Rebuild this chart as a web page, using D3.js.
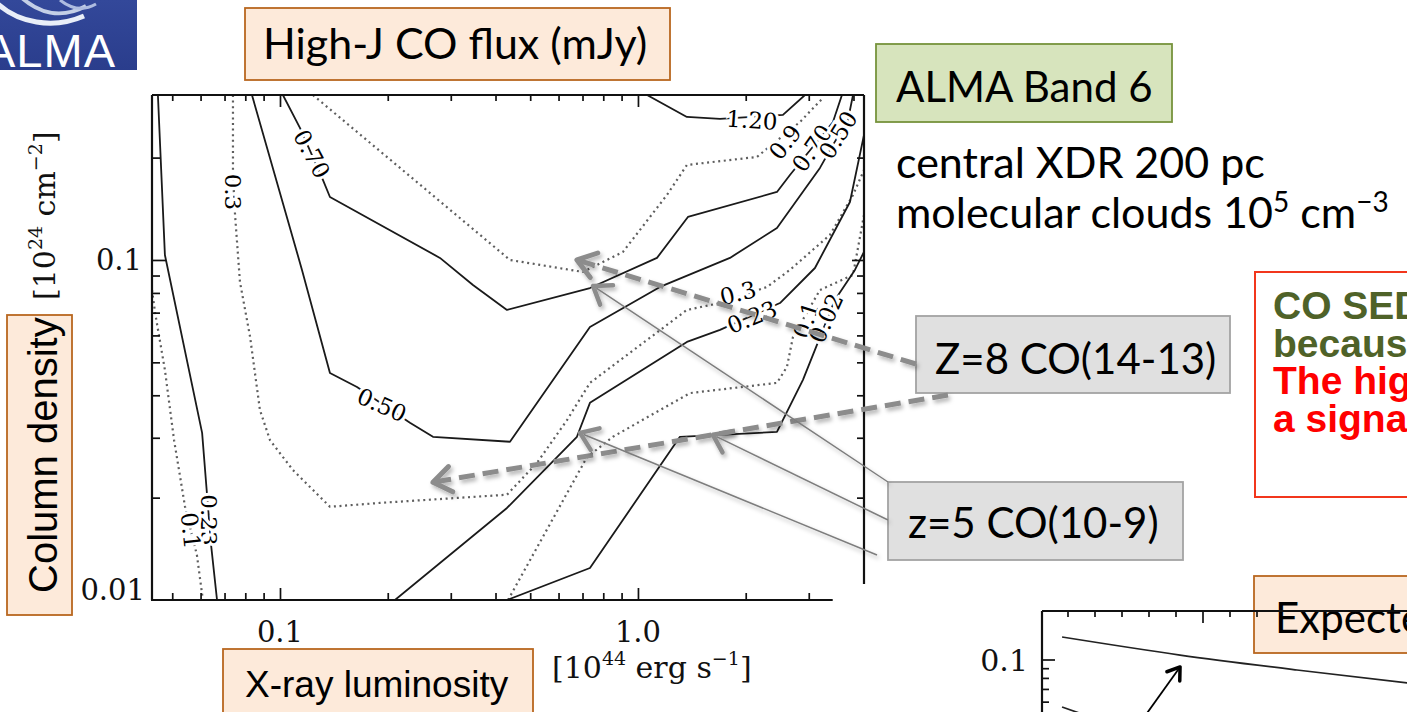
<!DOCTYPE html>
<html>
<head>
<meta charset="utf-8">
<script src="https://cdn.jsdelivr.net/npm/d3@7"></script>
<style>
  html, body { margin: 0; padding: 0; background: #fff; overflow: hidden; }
  svg { display: block; }
</style>
</head>
<body>
<svg id="chart" width="1407" height="712"></svg>
<script>
// ---- Axis ranges and ticks (X-ray luminosity [1e44 erg/s], column density [1e24 cm^-2]) ----
const lumDomain = [0.0439, 4.28];
const colDomain = [0.01, 0.3056];
const xMajorTicks = [0.1, 1.0];
const xTickLabels = ["0.1", "1.0"];
const xMinorTicks = [0.05, 0.06, 0.07, 0.08, 0.09, 0.2, 0.3, 0.4, 0.5, 0.6, 0.7, 0.8, 0.9, 2, 3, 4];
const yMajorTicks = [0.01, 0.1];
const yTickLabels = ["0.01", "0.1"];
const yMinorTicks = [0.02, 0.03, 0.04, 0.05, 0.06, 0.07, 0.08, 0.09, 0.2];

// ---- Contours of high-J CO flux (mJy): [luminosity, column density] ----
const c023left = [[0.0456,0.3056],[0.0477,0.1034],[0.0606,0.0310],[0.0625,0.0206],[0.0642,0.0145],[0.0667,0.01]];
const c010left = [[0.0439,0.0816],[0.0448,0.0698],[0.0477,0.0475],[0.0506,0.0295],[0.0543,0.0188],[0.0586,0.01356],[0.0609,0.01]];
const c030 = [[0.0739,0.3056],[0.0739,0.1778],[0.0749,0.1356],[0.0773,0.0862],[0.0825,0.0594],[0.0879,0.0362],[0.0938,0.0295],
              [0.1087,0.0241],[0.1379,0.0188],[0.1903,0.0193],[0.4306,0.0204],[0.5222,0.0253],[0.6334,0.0338],[0.7343,0.0435],
              [1.370,0.0713],[1.695,0.0747],[2.293,0.0833],[2.658,0.0935],[3.438,0.1185],[3.988,0.1553],[4.28,0.1839]];
const c050 = [[0.0835,0.3056],[0.1152,0.0935],[0.1379,0.0465],[0.1641,0.0423],[0.2307,0.0332],[0.2675,0.0302],[0.4390,0.0292],
              [0.7343,0.0635],[1.152,0.0833],[1.807,0.1014],[2.445,0.1242],[3.224,0.1865],[3.505,0.2180],[3.861,0.2581],[3.988,0.3056]];
const c070 = [[0.1019,0.3056],[0.1137,0.2445],[0.1318,0.1719],[0.1379,0.1532],[0.2798,0.1014],[0.3460,0.0844],[0.4306,0.0713],
              [0.7343,0.0827],[1.130,0.1014],[1.379,0.1338],[2.445,0.1585],[2.658,0.1778],[3.505,0.2546],[3.714,0.3056]];
const c090 = [[0.1236,0.3056],[0.439,0.1],[0.702,0.0922],[0.908,0.1056],[1.205,0.1553],[1.370,0.1903],[2.149,0.2009],
              [2.835,0.2546],[3.287,0.2996]];
const c120 = [[1.060,0.3056],[1.370,0.2634],[1.695,0.2599],[2.541,0.2670],[2.928,0.3056]];
const c023right = [[0.2095,0.01],[0.4306,0.01865],[0.6753,0.0302],[0.7343,0.0380],[1.370,0.0574],[1.695,0.0623],
                   [2.493,0.0747],[3.122,0.0947],[3.910,0.1481],[4.28,0.2332]];
const c010right = [[0.4335,0.01],[0.7202,0.0263],[0.8514,0.0302],[1.397,0.0406],[2.445,0.0435],[2.608,0.0485],
                   [2.710,0.0594],[3.224,0.0816],[3.988,0.0904],[4.28,0.1356]];
const c002 = [[0.4306,0.01],[0.7343,0.01242],[1.310,0.0302],[2.445,0.0312],[2.890,0.0444],[3.122,0.0544],
              [3.549,0.0763],[4.037,0.0935],[4.28,0.1056]];

const contours = [
  { pts: c023left,  dotted: false },
  { pts: c010left,  dotted: true  },
  { pts: c030,      dotted: true  },
  { pts: c050,      dotted: false },
  { pts: c070,      dotted: false },
  { pts: c090,      dotted: true  },
  { pts: c120,      dotted: false },
  { pts: c023right, dotted: false },
  { pts: c010right, dotted: true  },
  { pts: c002,      dotted: false }
];

// contour labels: [text, luminosity, column density, rotation]
const contourLabels = [
  ["0.23", 0.0634, 0.0172, 90],
  ["0.1",  0.0564, 0.0160, 84],
  ["0.3",  0.0739, 0.1585, 90],
  ["0.70", 0.1228, 0.2050, 62],
  ["0.50", 0.1927, 0.0375, 24],
  ["1.20", 2.082,  0.2581, 4],
  ["0.9",  2.574,  0.2224, -52],
  ["0.70", 3.062,  0.2135, -55],
  ["0.50", 3.620,  0.2332, -58],
  ["0.3",  1.902,  0.0800, -14],
  ["0.23", 2.082,  0.0680, -22],
  ["0.1",  2.947,  0.0666, -72],
  ["0.02", 3.351,  0.0675, -66]
];

// arrow targets on the contour plot: [luminosity, column density]
const z8Targets = [[0.6753, 0.1], [0.2675, 0.0222]];
const z5Targets = [[0.749, 0.0839], [1.620, 0.0306], [0.689, 0.0310]];

// comment lines in the red box: [text, colour]
const commentLines = [
  ["CO SED", "#4f6228"],
  ["because", "#4f6228"],
  ["The high", "#ff0000"],
  ["a signal", "#ff0000"]
];

// ---- Inset plot (partially visible) ----
const insetXTicks = [1, 2, 3, 4, 5, 6, 7, 8];
const insetYMajor = [0.1];
const insetYMinor = [0.09, 0.08, 0.07, 0.06, 0.05];
const insetLineA = [[0.78,0.1321],[5.15,0.1062],[9.48,0.0886],[13.6,0.0757]];
const insetLineB = [[0.78,0.0566],[1.6,0.0515]];
const insetArrow = [[3.93,0.0526],[5.15,0.0919]];

// ------------------------------------------------------------------
const svg = d3.select("#chart");
const defs = svg.append("defs");
defs.append("clipPath").attr("id", "plotClip")
  .append("rect").attr("x", 152).attr("y", 95).attr("width", 712).attr("height", 505);
const sh = defs.append("filter").attr("id", "shadow")
  .attr("x", "-10%").attr("y", "-30%").attr("width", "130%").attr("height", "180%");
sh.append("feDropShadow").attr("dx", 2).attr("dy", 3).attr("stdDeviation", 2)
  .attr("flood-color", "#000").attr("flood-opacity", 0.3);
const logoGrad = defs.append("linearGradient").attr("id", "logoGrad")
  .attr("x1", 0).attr("y1", 0).attr("x2", 0).attr("y2", 1);
logoGrad.append("stop").attr("offset", "0%").attr("stop-color", "#33489a");
logoGrad.append("stop").attr("offset", "100%").attr("stop-color", "#2a3d8c");

svg.append("rect").attr("width", 1407).attr("height", 712).attr("fill", "#fff");

const x = d3.scaleLog().domain(lumDomain).range([152, 864]);
const y = d3.scaleLog().domain(colDomain).range([600, 95]);

// ---- logo ----
const logo = svg.append("g");
logo.append("rect").attr("x", 0).attr("y", 0).attr("width", 137).attr("height", 70).attr("fill", "url(#logoGrad)");
logo.append("path").attr("d", "M-2,4 C18,22 52,30 84,16").attr("fill", "none")
  .attr("stroke", "#e9eef8").attr("stroke-width", 5);
logo.append("path").attr("d", "M22,-2 C38,12 60,20 86,6").attr("fill", "none")
  .attr("stroke", "#c4cfe6").attr("stroke-width", 4);
logo.append("path").attr("d", "M60,0 C70,8 82,12 96,4").attr("fill", "none")
  .attr("stroke", "#aebce0").attr("stroke-width", 3);
logo.append("text").attr("x", -16).attr("y", 67)
  .attr("font-family", "Liberation Sans, Arial, sans-serif").attr("font-size", 47)
  .attr("letter-spacing", 1).attr("fill", "#fff").text("ALMA");

// ---- contour plot ----
const plot = svg.append("g");
const lineGen = d3.line().x(d => x(d[0])).y(d => y(d[1]));
const cg = plot.append("g").attr("clip-path", "url(#plotClip)");
cg.selectAll("path.contour").data(contours).join("path")
  .attr("class", "contour")
  .attr("d", d => lineGen(d.pts))
  .attr("fill", "none")
  .attr("stroke", d => d.dotted ? "#5e5e5e" : "#1a1a1a")
  .attr("stroke-width", d => d.dotted ? 2.2 : 1.8)
  .attr("stroke-dasharray", d => d.dotted ? "2 3.6" : null)
  .attr("stroke-linejoin", "round");

cg.selectAll("text.clabel").data(contourLabels).join("text")
  .attr("class", "clabel")
  .attr("transform", d => `translate(${x(d[1])},${y(d[2])}) rotate(${d[3]})`)
  .attr("text-anchor", "middle").attr("dy", "0.36em")
  .attr("font-family", "DejaVu Serif, serif").attr("font-size", 23)
  .attr("fill", "#000")
  .attr("stroke", "#fff").attr("stroke-width", 6).attr("paint-order", "stroke")
  .text(d => d[0]);

// ticks on all four sides, pointing inward
function tickAxis(axis, tx, ty, vals, size) {
  const g = plot.append("g").attr("transform", `translate(${tx},${ty})`)
    .call(axis.tickValues(vals).tickSize(size).tickFormat(""));
  g.select(".domain").remove();
  g.selectAll("line").attr("stroke", "#111").attr("stroke-width", 1.7);
}
tickAxis(d3.axisTop(x), 0, 600, xMinorTicks.filter(v => v <= 3.2), 7);
tickAxis(d3.axisTop(x), 0, 600, xMajorTicks, 12);
tickAxis(d3.axisBottom(x), 0, 95, xMinorTicks, 6);
tickAxis(d3.axisBottom(x), 0, 95, xMajorTicks, 12);
tickAxis(d3.axisRight(y), 152, 0, yMinorTicks, 8);
tickAxis(d3.axisRight(y), 152, 0, yMajorTicks.filter(v => v > 0.01), 14);
tickAxis(d3.axisLeft(y), 864, 0, yMinorTicks, 7);
tickAxis(d3.axisLeft(y), 864, 0, yMajorTicks.filter(v => v > 0.01), 12);

// frame
const [x0, x1] = x.range(), [yb, yt] = y.range();
const frame = plot.append("g").attr("stroke", "#111").attr("stroke-width", 2.2).attr("fill", "none");
frame.append("line").attr("x1", x0).attr("y1", yt).attr("x2", x1).attr("y2", yt);
frame.append("line").attr("x1", x0).attr("y1", yt).attr("x2", x0).attr("y2", yb);
frame.append("line").attr("x1", x0 - 1).attr("y1", yb).attr("x2", x(3.5)).attr("y2", yb);
frame.append("line").attr("x1", x1).attr("y1", yt).attr("x2", x1).attr("y2", yb - 16);

// tick labels
plot.selectAll("text.xt").data(xMajorTicks).join("text").attr("class", "xt")
  .attr("x", d => x(d)).attr("y", 642).attr("text-anchor", "middle")
  .attr("font-family", "DejaVu Serif, serif").attr("font-size", 29).attr("fill", "#111")
  .text((d, i) => xTickLabels[i]);
plot.selectAll("text.yt").data(yMajorTicks).join("text").attr("class", "yt")
  .attr("x", d => d === 0.01 ? 145 : 142).attr("y", d => y(d) + (d === 0.01 ? 0 : 10)).attr("text-anchor", "end")
  .attr("font-family", "DejaVu Serif, serif").attr("font-size", 29).attr("fill", "#111")
  .text((d, i) => yTickLabels[i]);

// unit labels
const xu = plot.append("text").attr("x", 552).attr("y", 678)
  .attr("font-family", "DejaVu Serif, serif").attr("font-size", 30).attr("fill", "#111");
xu.append("tspan").text("[10");
xu.append("tspan").attr("dy", -13).attr("font-size", 19).text("44");
xu.append("tspan").attr("dy", 13).text(" erg s");
xu.append("tspan").attr("dy", -13).attr("font-size", 19).text("\u22121");
xu.append("tspan").attr("dy", 13).text("]");

const yu = plot.append("text").attr("transform", "translate(55,300) rotate(-90)")
  .attr("font-family", "DejaVu Serif, serif").attr("font-size", 30).attr("fill", "#111");
yu.append("tspan").text("[10");
yu.append("tspan").attr("dy", -13).attr("font-size", 19).text("24");
yu.append("tspan").attr("dy", 13).text(" cm");
yu.append("tspan").attr("dy", -13).attr("font-size", 19).text("\u22122");
yu.append("tspan").attr("dy", 13).text("]");

// ---- annotation boxes ----
const ann = svg.append("g");
const slideFont = "Lato, 'Open Sans', sans-serif";
const arialFont = "'Liberation Sans', Arial, sans-serif";

function box(x0, y0, w, h, fill, stroke) {
  ann.append("rect").attr("x", x0).attr("y", y0).attr("width", w).attr("height", h)
    .attr("fill", fill).attr("stroke", stroke).attr("stroke-width", 1.8);
}
function label(tx, ty, txt, size, family, color, weight) {
  return ann.append("text").attr("x", tx).attr("y", ty)
    .attr("font-family", family).attr("font-size", size)
    .attr("font-weight", weight || "normal").attr("fill", color || "#000").text(txt);
}

box(245, 8, 425, 72, "#fdeada", "#b9671f");
label(263, 59, "High-J CO flux (mJy)", 43, slideFont);

box(876, 44, 296, 78, "#d7e4bd", "#77933c");
label(896, 102, "ALMA Band 6", 42, slideFont);

label(896, 178, "central XDR 200 pc", 43, slideFont);
const mol = label(896, 228, "molecular clouds 10", 43, slideFont);
mol.append("tspan").attr("dy", -16).attr("font-size", 28).text("5");
mol.append("tspan").attr("dy", 16).text(" cm");
mol.append("tspan").attr("dy", -16).attr("font-size", 28).text("\u22123");

// Column density / X-ray luminosity boxes
box(7, 315, 65, 300, "#fdeada", "#b9671f");
ann.append("text").attr("transform", "translate(57,593) rotate(-90)")
  .attr("font-family", arialFont).attr("font-size", 40).attr("fill", "#000").text("Column density");
box(223, 649, 310, 80, "#fdeada", "#b9671f");
label(245, 697, "X-ray luminosity", 37, arialFont);

// red comment box: one text block, one line per entry
ann.append("rect").attr("x", 1255).attr("y", 272).attr("width", 170).attr("height", 225)
  .attr("fill", "#fff").attr("stroke", "#f2361c").attr("stroke-width", 2);
const comment = ann.append("text").attr("x", 1273).attr("y", 319)
  .attr("font-family", arialFont).attr("font-size", 39).attr("font-weight", "bold");
comment.selectAll("tspan").data(commentLines).join("tspan")
  .attr("x", 1273).attr("dy", (d, i) => i === 0 ? 0 : 37.7)
  .attr("fill", d => d[1]).text(d => d[0]);

// ---- inset plot ----
const mx = d3.scaleLinear().domain([0, 1]).range([1041, 1068]);
const my = d3.scaleLog().domain([0.1, 0.01]).range([660, 850]);
const inset = svg.append("g");
const insetLine = d3.line().x(d => mx(d[0])).y(d => my(d[1])).curve(d3.curveMonotoneX);
inset.append("path").attr("d", insetLine(insetLineA)).attr("fill", "none").attr("stroke", "#222").attr("stroke-width", 1.7);
inset.append("path").attr("d", insetLine(insetLineB)).attr("fill", "none").attr("stroke", "#222").attr("stroke-width", 1.7);
inset.append("line").attr("x1", 1042).attr("y1", 611).attr("x2", 1420).attr("y2", 611).attr("stroke", "#111").attr("stroke-width", 2.2);
inset.append("line").attr("x1", 1042).attr("y1", 611).attr("x2", 1042).attr("y2", 720).attr("stroke", "#111").attr("stroke-width", 2.2);
inset.selectAll("line.itx").data(insetXTicks).join("line").attr("class", "itx")
  .attr("x1", d => mx(d)).attr("x2", d => mx(d)).attr("y1", 611).attr("y2", d => d === 6 ? 623 : 617)
  .attr("stroke", "#111").attr("stroke-width", 1.7);
inset.selectAll("line.ity").data(insetYMajor.concat(insetYMinor)).join("line").attr("class", "ity")
  .attr("x1", 1042).attr("x2", d => d === 0.1 ? 1055 : 1049).attr("y1", d => my(d)).attr("y2", d => my(d))
  .attr("stroke", "#111").attr("stroke-width", 1.7);
inset.append("text").attr("x", 1028).attr("y", my(0.1) + 11).attr("text-anchor", "end")
  .attr("font-family", "DejaVu Serif, serif").attr("font-size", 30).attr("fill", "#111").text("0.1");

// "Expected" box over the inset
box(1254, 576, 170, 77, "#fdeada", "#b9671f");
label(1275, 633, "Expected", 42, slideFont);

// ---- arrows ----
const arrows = svg.append("g");
function chevron(g, tx, ty, fromX, fromY, len, half, color, width) {
  const a = Math.atan2(fromY - ty, fromX - tx);
  const p1 = [tx + len * Math.cos(a + half), ty + len * Math.sin(a + half)];
  const p2 = [tx + len * Math.cos(a - half), ty + len * Math.sin(a - half)];
  g.append("path").attr("d", `M${p1[0]},${p1[1]}L${tx},${ty}L${p2[0]},${p2[1]}`)
    .attr("fill", "none").attr("stroke", color).attr("stroke-width", width)
    .attr("stroke-linecap", "round").attr("stroke-linejoin", "round");
}
function arrow(x1, y1, x2, y2, dashed) {
  const g = arrows.append("g").attr("filter", "url(#shadow)");
  const color = "#8c8c8c";
  const a = Math.atan2(y1 - y2, x1 - x2);
  const ex = x2 + 4 * Math.cos(a), ey = y2 + 4 * Math.sin(a);
  g.append("line").attr("x1", x1).attr("y1", y1).attr("x2", ex).attr("y2", ey)
    .attr("stroke", dashed ? color : "#7d7d7d").attr("stroke-width", dashed ? 5 : 1.5)
    .attr("stroke-dasharray", dashed ? "16 8" : null);
  chevron(g, x2, y2, x1, y1, dashed ? 22 : 20, 0.62, color, dashed ? 5 : 4.5);
}
arrow(916, 364, x(z8Targets[0][0]), y(z8Targets[0][1]), true);
arrow(948, 395, x(z8Targets[1][0]), y(z8Targets[1][1]), true);
arrow(888, 482, x(z5Targets[0][0]), y(z5Targets[0][1]), false);
arrow(888, 520, x(z5Targets[1][0]), y(z5Targets[1][1]), false);
arrow(877, 555, x(z5Targets[2][0]), y(z5Targets[2][1]), false);

// inset arrow (black)
const ia = svg.append("g");
ia.append("line").attr("x1", mx(insetArrow[0][0])).attr("y1", my(insetArrow[0][1]))
  .attr("x2", mx(insetArrow[1][0])).attr("y2", my(insetArrow[1][1]))
  .attr("stroke", "#000").attr("stroke-width", 1.8);
chevron(ia, mx(insetArrow[1][0]), my(insetArrow[1][1]), mx(insetArrow[0][0]), my(insetArrow[0][1]), 14, 0.6, "#000", 3.5);

// gray label boxes (drawn over arrow tails)
box(916, 316, 314, 77, "#e0e0e0", "#a3a3a3");
label(935, 374, "Z=8 CO(14-13)", 42, slideFont);
box(888, 482, 295, 78, "#e0e0e0", "#a3a3a3");
label(908, 538, "z=5 CO(10-9)", 42, slideFont);
</script>
</body>
</html>
